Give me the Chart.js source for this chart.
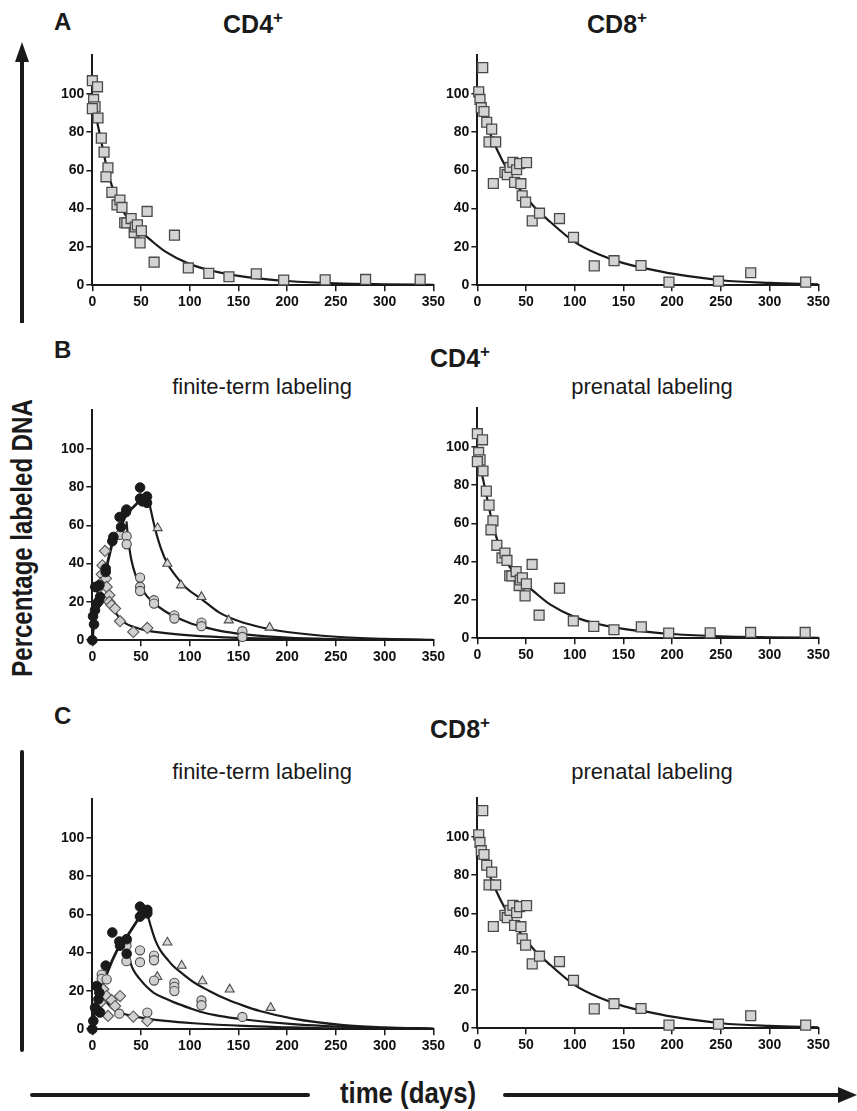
<!DOCTYPE html>
<html lang="en">
<head>
<meta charset="UTF-8">
<title>Percentage labeled DNA</title>
<script src="https://cdn.jsdelivr.net/npm/chart.js"></script>
<style>
  body { margin: 0; background: #fff; }
  #page { position: relative; width: 857px; height: 1111px; overflow: hidden; font-family: "Liberation Sans", Arial, sans-serif; color: #1a1a1a; }
  #page canvas { position: absolute; }
  .lbl { position: absolute; font-weight: bold; font-size: 24px; line-height: 1; }
  .ttl { position: absolute; font-weight: bold; font-size: 25px; line-height: 1; transform: translateX(-50%); white-space: nowrap; }
  .ttl sup { font-size: 17px; vertical-align: 10px; line-height: 0; }
  .sub { position: absolute; font-size: 22px; line-height: 1; transform: translateX(-50%); white-space: nowrap; }
  .narrow { position: absolute; font-family: "Liberation Sans Narrow", "Liberation Sans", sans-serif; font-weight: bold; font-size: 30px; line-height: 1; white-space: nowrap; }
</style>
</head>
<body>
<div id="page">
  <svg width="857" height="1111" style="position:absolute;left:0;top:0">
    <line x1="22" y1="323" x2="22" y2="58" stroke="#1a1a1a" stroke-width="4"/>
    <polygon points="22,42 15,62 29,62" fill="#1a1a1a"/>
    <line x1="22" y1="752" x2="22" y2="1050" stroke="#1a1a1a" stroke-width="4" stroke-linecap="round"/>
    <line x1="32" y1="1095" x2="308" y2="1095" stroke="#1a1a1a" stroke-width="4" stroke-linecap="round"/>
    <line x1="505" y1="1095" x2="842" y2="1095" stroke="#1a1a1a" stroke-width="4" stroke-linecap="round"/>
    <polygon points="857,1095 838,1087 838,1103" fill="#1a1a1a"/>
  </svg>

  <div class="lbl" style="left:54px;top:10px">A</div>
  <div class="ttl" style="left:253px;top:12px">CD4<sup>+</sup></div>
  <div class="ttl" style="left:617px;top:12px">CD8<sup>+</sup></div>

  <div class="lbl" style="left:54px;top:338px">B</div>
  <div class="ttl" style="left:460px;top:346px">CD4<sup>+</sup></div>
  <div class="sub" style="left:262px;top:376px">finite-term labeling</div>
  <div class="sub" style="left:652px;top:376px">prenatal labeling</div>

  <div class="lbl" style="left:54px;top:704px">C</div>
  <div class="ttl" style="left:460px;top:717px">CD8<sup>+</sup></div>
  <div class="sub" style="left:262px;top:761px">finite-term labeling</div>
  <div class="sub" style="left:652px;top:761px">prenatal labeling</div>

  <div class="narrow" style="left:22px;top:538px;transform:translate(-50%,-50%) rotate(-90deg) scaleX(0.8)">Percentage labeled DNA</div>
  <div class="narrow" style="left:408px;top:1093px;transform:translate(-50%,-50%) scaleX(0.86)">time (days)</div>

  <canvas id="aLeft" width="420" height="300"></canvas>
  <canvas id="aRight" width="420" height="300"></canvas>
  <canvas id="bLeft" width="420" height="300"></canvas>
  <canvas id="bRight" width="420" height="300"></canvas>
  <canvas id="cLeft" width="420" height="300"></canvas>
  <canvas id="cRight" width="420" height="300"></canvas>
</div>

<script>
// ---- prenatal labeling, CD4+ (panel A left, B right) ----
const cd4PreDays = [0, 5.3, 1.3, 2.8, 0, 5.8, 9.2, 12, 16, 14, 20, 25.3, 28.3, 30.4, 33.2, 35.4, 39.8, 42.9, 44, 46.2, 50.3, 49, 56.2, 63.4, 84.3, 98.5, 119.5, 140.2, 168.3, 196.4, 239, 280.5, 336.5];
const cd4PrePct  = [106.8, 103.6, 97, 93.1, 92.2, 87.3, 76.8, 69.5, 61.3, 56.6, 48.5, 41.9, 44.5, 40.6, 32.6, 32.5, 34.8, 27.5, 30.4, 31.5, 28.4, 22.1, 38.5, 12, 26.1, 9, 6.2, 4.4, 5.9, 2.7, 2.8, 3, 3];
const cd4PreCurveDays = [0, 5, 10, 15, 20, 25, 30, 35, 40, 50, 60, 75, 100, 125, 150, 175, 200, 250, 300, 350];
const cd4PreCurvePct  = [95, 85, 73, 61, 52, 45, 40, 36, 33, 28, 23.5, 17.5, 11, 7.3, 4.9, 3.3, 2.2, 1, 0.5, 0.2];

// ---- prenatal labeling, CD8+ (panel A right, C right) ----
const cd8PreDays = [5.5, 1.4, 2.7, 4, 6.8, 9.6, 14.7, 12, 18.8, 16.4, 28.3, 30.7, 33.5, 36.5, 40.3, 43.4, 50.5, 38.2, 44.7, 46, 49.5, 56.3, 63.8, 84.3, 98.7, 120, 140.3, 168, 196.7, 247.5, 280.6, 337];
const cd8PrePct  = [113.6, 101, 97, 92.7, 90.7, 85.1, 81.5, 74.8, 74.8, 53.1, 58.9, 57.7, 61.5, 64.2, 60.3, 63.5, 64, 53.7, 53, 46.7, 43.4, 33.6, 37.6, 34.8, 25, 10.1, 12.8, 10.3, 1.6, 2.1, 6.5, 1.6];
const cd8PreCurveDays = [0, 10, 20, 30, 40, 50, 60, 75, 100, 125, 150, 175, 200, 250, 300, 350];
const cd8PreCurvePct  = [95, 83, 71, 61, 52.5, 46, 40, 33, 22.5, 16, 11.5, 8.5, 6, 2.6, 1.2, 0.5];

// ---- finite-term labeling, CD4+ (panel B left) ----
const b4OnDays = [0, 1.7, 0.7, 2.7, 4.4, 6.5, 7.9, 4.4, 7.2, 3, 13.7, 13.7, 20.5, 21.6, 28, 29.4, 34.5, 35, 49, 49, 51.3, 56.1, 56.1];
const b4OnPct  = [0, 8.3, 12.5, 15.7, 19, 20.3, 22.6, 27.8, 28.7, 27.8, 37.4, 35.6, 51.7, 53.9, 64.3, 59.1, 66.9, 68.2, 79.7, 74, 72.5, 75, 71.7];
const b4CircDays = [28.4, 35.2, 35.2, 49, 49, 49, 63.3, 63.3, 84.2, 84.2, 112, 112, 154, 154];
const b4CircPct  = [55, 54.3, 50.1, 32.7, 27.8, 25.7, 20.9, 19.1, 13, 11.3, 9.2, 7.3, 4.7, 1.7];
const b4DiaDays = [13, 10.3, 9.6, 8.9, 6.2, 14, 14.7, 17.4, 17.4, 19.8, 23.3, 28.4, 42, 56.4];
const b4DiaPct  = [46.6, 39.1, 34.4, 29.9, 27, 32.2, 27.8, 23.5, 20, 18.3, 16.5, 9.9, 4.3, 6.4];
const b4TriDays = [67, 77, 91, 112, 140, 182];
const b4TriPct  = [58.6, 40, 28.7, 22.6, 10.4, 6.6];
const b4RiseDays = [0, 2, 4, 7, 10, 14, 21, 28, 35, 49, 56];
const b4RisePct  = [0, 13, 19, 28, 31, 37, 52, 58, 66, 73, 77];
const b4DiaCurveDays = [10, 12, 14, 17, 21, 28, 35, 42, 56, 75, 100, 150, 200, 250, 300, 350];
const b4DiaCurvePct  = [33, 30, 26, 21.5, 17, 11.5, 8.5, 7, 5, 3.7, 2.5, 1.2, 0.6, 0.3, 0.15, 0.1];
const b4CircCurveDays = [35, 37, 40, 45, 50, 56, 63, 75, 84, 100, 112, 130, 154, 200, 250, 300, 350];
const b4CircCurvePct  = [62, 52, 42, 33, 27.5, 23, 19.5, 15, 12.5, 9, 7.2, 5, 3.2, 1.3, 0.5, 0.2, 0.1];
const b4TriCurveDays = [56, 60, 65, 70, 77, 85, 97, 112, 130, 150, 175, 200, 250, 300, 350];
const b4TriCurvePct  = [77, 68, 57, 48.5, 40, 34, 27, 21.5, 14.5, 10, 6.5, 4.3, 1.8, 0.7, 0.2];

// ---- finite-term labeling, CD8+ (panel C left) ----
const c8OnDays = [0, 1, 2.7, 4.4, 6.2, 7.2, 6.2, 7.9, 13.7, 20.5, 27.7, 28.4, 35.2, 35.2, 48.9, 48.9, 51.7, 56.4, 56.4];
const c8OnPct  = [0, 4.3, 11.2, 22.5, 15.6, 19, 9.5, 8.7, 33.2, 50.5, 45.8, 43.6, 39.4, 47, 64, 58.8, 60.5, 62.3, 60.5];
const c8CircDays = [9.6, 9.6, 14.7, 35, 35, 35, 48.9, 48.9, 63.3, 63.3, 63.3, 84.2, 84.2, 84.2, 112, 112, 154, 56.4, 27.7];
const c8CircPct  = [28.5, 26.3, 26, 45.8, 43.6, 35.5, 41.2, 35, 38.4, 36, 25.4, 24.2, 22.1, 19.9, 15, 12.5, 6.4, 8.7, 8.1];
const c8DiaDays = [11.3, 14.7, 19.8, 23.3, 28.4, 16.1, 42, 56.4, 8.5];
const c8DiaPct  = [20.8, 17.3, 15.2, 12.1, 17.3, 6.9, 6.6, 4.3, 14];
const c8TriDays = [66.7, 77, 91.7, 113, 141, 183];
const c8TriPct  = [27.3, 45.3, 33.2, 25.1, 20.8, 11.2];
const c8RiseDays = [0, 2, 5, 8, 14, 20.5, 28, 35, 49, 56];
const c8RisePct  = [0, 8, 16, 21, 28, 36, 44, 48, 59, 61];
const c8DiaCurveDays = [8, 10, 14, 20, 28, 42, 56, 75, 104, 155, 200, 240, 300, 350];
const c8DiaCurvePct  = [21, 18, 14.5, 11, 8.7, 6.8, 5.5, 4.3, 3.1, 1.7, 1, 0.5, 0.2, 0.1];
const c8CircCurveDays = [35, 37, 39, 42, 49, 56, 63, 75, 84, 100, 112, 130, 154, 206, 275, 350];
const c8CircCurvePct  = [47, 40, 35, 31, 26, 22, 19, 16, 14, 11, 9, 7, 5.2, 2.6, 0.9, 0.2];
const c8TriCurveDays = [56, 61, 65, 70, 77, 83, 95, 104, 120, 138, 155, 172, 206, 258, 300, 350];
const c8TriCurvePct  = [61, 52, 46, 41, 36.5, 33, 28, 24.5, 20, 15.6, 12.3, 9.5, 5.5, 2.1, 1, 0.3];

const xTicks = [0, 50, 100, 150, 200, 250, 300, 350];
const yTicks = [0, 20, 40, 60, 80, 100];

const INK = '#1a1a1a';
const PLOT_W = 341;   // px for 0..350 days
const PLOT_H = 230;   // px for 0..120 %

Chart.defaults.font.family = '"Liberation Sans", Arial, sans-serif';

const squareStyle = { pointStyle: 'rect', pointRadius: 7, backgroundColor: '#d4d4d4', borderColor: '#4a4a4a', borderWidth: 1.3 };
const blackDot = { pointStyle: 'circle', pointRadius: 4.8, backgroundColor: INK, borderColor: INK, borderWidth: 1 };
const grayDot = { pointStyle: 'circle', pointRadius: 4.6, backgroundColor: '#d0d0d0', borderColor: '#4a4a4a', borderWidth: 1.1 };
const diamond = { pointStyle: 'rectRot', pointRadius: 5.6, backgroundColor: '#d0d0d0', borderColor: '#555', borderWidth: 1.1 };
const triangle = { pointStyle: 'triangle', pointRadius: 5.2, backgroundColor: '#d8d8d8', borderColor: '#4a4a4a', borderWidth: 1.1 };

function pts(days, pct) {
    return days.map((d, i) => ({ x: d, y: pct[i] }));
}

function markers(days, pct, style) {
    return Object.assign({ data: pts(days, pct), showLine: false, clip: false, pointHoverRadius: style.pointRadius }, style);
}

function curve(days, pct, smooth) {
    return {
        data: pts(days, pct),
        showLine: true,
        pointRadius: 0,
        pointHoverRadius: 0,
        borderColor: INK,
        borderWidth: smooth ? 2.2 : 2.8,
        cubicInterpolationMode: smooth ? 'monotone' : 'default',
        tension: 0,
        clip: false
    };
}

function makeConfig(datasets) {
    const tickFont = { size: 14, weight: 'bold' };
    const grid = { drawOnChartArea: false, drawTicks: true, tickLength: 6, color: INK, lineWidth: 1.5 };
    const border = { color: INK, width: 2 };
    return {
        type: 'scatter',
        data: { datasets: datasets },
        options: {
            responsive: false,
            maintainAspectRatio: false,
            animation: false,
            devicePixelRatio: 1,
            events: [],
            layout: { padding: { top: 6, right: 6, left: 0, bottom: 0 } },
            plugins: { legend: { display: false }, tooltip: { enabled: false } },
            scales: {
                x: {
                    type: 'linear', min: 0, max: 350,
                    afterBuildTicks: s => { s.ticks = xTicks.map(v => ({ value: v })); },
                    ticks: { font: tickFont, color: '#111', padding: 3, maxRotation: 0, autoSkip: false },
                    grid: grid, border: border
                },
                y: {
                    type: 'linear', min: 0, max: 120,
                    afterBuildTicks: s => { s.ticks = yTicks.map(v => ({ value: v })); },
                    ticks: { font: tickFont, color: '#111', padding: 2, autoSkip: false },
                    grid: grid, border: border
                }
            }
        }
    };
}

// build the chart, then resize the canvas so the plot area is PLOT_W x PLOT_H,
// and move it so that (0,0) lands at (x0, y0) on the page
function placePanel(id, datasets, x0, y0) {
    const cv = document.getElementById(id);
    let chart = new Chart(cv, makeConfig(datasets));
    let ca = chart.chartArea;
    const w = 420 + (PLOT_W - (ca.right - ca.left));
    const h = 300 + (PLOT_H - (ca.bottom - ca.top));
    chart.destroy();
    cv.width = w;
    cv.height = h;
    cv.style.width = w + 'px';
    cv.style.height = h + 'px';
    chart = new Chart(cv, makeConfig(datasets));
    cv.style.left = (x0 - chart.scales.x.getPixelForValue(0)) + 'px';
    cv.style.top = (y0 - chart.scales.y.getPixelForValue(0)) + 'px';
}

function prenatal4() {
    return [markers(cd4PreDays, cd4PrePct, squareStyle), curve(cd4PreCurveDays, cd4PreCurvePct, true)];
}
function prenatal8() {
    return [markers(cd8PreDays, cd8PrePct, squareStyle), curve(cd8PreCurveDays, cd8PreCurvePct, true)];
}

placePanel('aLeft', prenatal4(), 92, 285);
placePanel('aRight', prenatal8(), 477, 285);

placePanel('bLeft', [
    markers(b4OnDays, b4OnPct, blackDot),
    markers(b4CircDays, b4CircPct, grayDot),
    markers(b4DiaDays, b4DiaPct, diamond),
    markers(b4TriDays, b4TriPct, triangle),
    curve(b4RiseDays, b4RisePct, false),
    curve(b4DiaCurveDays, b4DiaCurvePct, true),
    curve(b4CircCurveDays, b4CircCurvePct, true),
    curve(b4TriCurveDays, b4TriCurvePct, true)
], 92, 640);
placePanel('bRight', prenatal4(), 477, 638);

placePanel('cLeft', [
    markers(c8OnDays, c8OnPct, blackDot),
    markers(c8CircDays, c8CircPct, grayDot),
    markers(c8DiaDays, c8DiaPct, diamond),
    markers(c8TriDays, c8TriPct, triangle),
    curve(c8RiseDays, c8RisePct, false),
    curve(c8DiaCurveDays, c8DiaCurvePct, true),
    curve(c8CircCurveDays, c8CircCurvePct, true),
    curve(c8TriCurveDays, c8TriCurvePct, true)
], 92, 1029);
placePanel('cRight', prenatal8(), 477, 1028);
</script>
</body>
</html>
